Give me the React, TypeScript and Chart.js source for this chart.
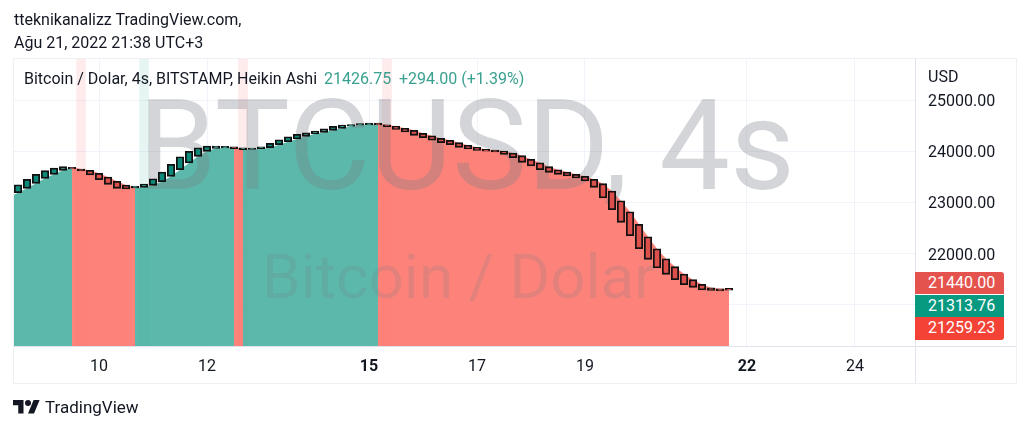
import React, { useEffect, useRef } from "react";
import { Chart, registerables } from "chart.js";

Chart.register(...registerables);

const opens = [
  23189, 23275, 23372, 23470, 23548, 23626, 23687, 23652, 23626, 23568,
  23495, 23411, 23339, 23284, 23294, 23333, 23404, 23509, 23638, 23769,
  23900, 23998, 24056, 24062, 24086, 24031, 24035, 24050, 24068, 24127,
  24185, 24238, 24291, 24336, 24369, 24408, 24447, 24488, 24508, 24511,
  24547, 24515, 24486, 24447, 24408, 24349, 24302, 24252, 24213, 24166,
  24115, 24076, 24035, 24021, 24003, 23964, 23912, 23841, 23775, 23697,
  23638, 23593, 23548, 23509, 23450, 23365, 23222, 23032, 22817, 22571,
  22329, 22094, 21899, 21743, 21600, 21489, 21399, 21332, 21311, 21318,
];
const closes = [
  23345, 23450, 23548, 23619, 23671, 23697, 23652, 23613, 23534, 23443,
  23353, 23275, 23261, 23320, 23359, 23462, 23593, 23744, 23892, 23998,
  24068, 24101, 24101, 24097, 24050, 24066, 24062, 24086, 24154, 24224,
  24283, 24330, 24361, 24394, 24439, 24486, 24511, 24521, 24541, 24547,
  24511, 24480, 24427, 24375, 24310, 24263, 24213, 24166, 24127, 24076,
  24043, 24017, 24000, 23986, 23939, 23873, 23783, 23710, 23638, 23587,
  23548, 23515, 23476, 23417, 23294, 23085, 22856, 22610, 22348, 22094,
  21887, 21717, 21594, 21489, 21391, 21340, 21287, 21282, 21272, 21283,
];
const firstOpenBeforeRange = 23100;

const bandIndexes = [7, 14, 25, 41];
const bandKinds = ["down", "up", "down", "down"];

const timeTickIndexes = [9, 21, 39, 51, 63, 81, 93];
const timeTickLabels = ["10", "12", "15", "17", "19", "22", "24"];
const boldTimeLabels = ["15", "22"];
const priceTicks = [21000, 22000, 23000, 24000, 25000];
const hiddenPriceTick = 21000;
const priceBadges = [
  { text: "21440.00", color: "#e5534f" },
  { text: "21313.76", color: "#089981" },
  { text: "21259.23", color: "#f44336" },
];

const PRICE_MIN = 20174;
const PRICE_MAX = 25821;
const FONT = "Roboto, sans-serif";
const INK = "#131722";
const AREA_UP = "rgba(73,176,161,0.9)";
const AREA_DOWN = "rgba(253,117,108,0.9)";
const QUOTE = "#3aa08f";

const isUp = (i: number) => closes[i] >= opens[i];

const watermark = {
  id: "watermark",
  beforeDatasetDraw(chart: any, args: any) {
    if (args.index !== 0) return;
    const { ctx } = chart;
    ctx.save();
    ctx.textBaseline = "alphabetic";
    ctx.textAlign = "left";
    ctx.fillStyle = "rgba(120,123,134,0.32)";
    ctx.font = `400 126px ${FONT}`;
    ctx.fillText("BTCUSD, 4s", 138, 189);
    ctx.fillStyle = "rgba(120,123,134,0.2)";
    ctx.font = `400 62px ${FONT}`;
    ctx.fillText("Bitcoin / Dolar", 262, 298);
    ctx.restore();
  },
};

const abs = (left: number, top: number, extra: React.CSSProperties = {}): React.CSSProperties => ({
  position: "absolute",
  left,
  top,
  fontFamily: FONT,
  fontSize: 16,
  lineHeight: "20px",
  color: INK,
  whiteSpace: "nowrap",
  ...extra,
});

export default function App() {
  const ref = useRef<HTMLCanvasElement>(null);

  useEffect(() => {
    const chart = new Chart(ref.current as HTMLCanvasElement, {
      type: "bar",
      data: {
        datasets: [
          {
            type: "bar",
            order: 0,
            grouped: false,
            barThickness: 7.5,
            data: opens.map((o, i) => ({ x: i, y: [o, closes[i]] })),
            backgroundColor: opens.map((_, i) => (isUp(i) ? "#0e8a7a" : "#dd4f4b")),
            borderColor: "#111111",
            borderWidth: 1.8,
            borderSkipped: false,
          },
          {
            type: "line",
            order: 1,
            data: [
              { x: -1, y: firstOpenBeforeRange },
              ...opens.map((o, i) => ({ x: i, y: o })),
            ],
            pointRadius: 0,
            borderWidth: 0,
            tension: 0,
            fill: "start",
            backgroundColor: AREA_UP,
            segment: {
              backgroundColor: (ctx: any) => {
                const i = ctx.p0DataIndex - 1;
                return i >= 0 && !isUp(i) ? AREA_DOWN : AREA_UP;
              },
            },
          },
          {
            type: "bar",
            order: 2,
            grouped: false,
            barThickness: 9,
            data: bandIndexes.map((x) => ({ x, y: [PRICE_MIN, PRICE_MAX] })),
            backgroundColor: bandKinds.map((k) =>
              k === "up" ? "rgba(8,153,129,0.1)" : "rgba(242,54,69,0.1)"
            ),
            borderWidth: 0,
          },
        ] as any,
      },
      plugins: [watermark],
      options: {
        animation: false,
        responsive: false,
        maintainAspectRatio: false,
        layout: { padding: { left: 13, right: 8, top: 58, bottom: 47 } },
        plugins: { legend: { display: false }, tooltip: { enabled: false } },
        scales: {
          x: {
            type: "linear",
            offset: false,
            min: -0.56,
            max: 99.67,
            afterBuildTicks: (s: any) => {
              s.ticks = timeTickIndexes.map((value) => ({ value }));
            },
            afterFit: (s: any) => {
              s.height = 36;
            },
            grid: { color: "#f0f3fa", drawTicks: false, offset: false },
            border: { display: false },
            ticks: {
              autoSkip: false,
              maxRotation: 0,
              padding: 10,
              color: INK,
              font: (ctx: any) => ({
                family: FONT,
                size: 16,
                weight: boldTimeLabels.includes(
                  timeTickLabels[timeTickIndexes.indexOf(ctx.tick?.value)]
                )
                  ? "bold"
                  : "normal",
              }),
              callback: (v: any) => timeTickLabels[timeTickIndexes.indexOf(v)] ?? "",
            },
          },
          y: {
            type: "linear",
            position: "right",
            min: PRICE_MIN,
            max: PRICE_MAX,
            afterBuildTicks: (s: any) => {
              s.ticks = priceTicks.map((value) => ({ value }));
            },
            afterFit: (s: any) => {
              s.width = 101;
            },
            grid: { color: "#f0f3fa", drawTicks: false },
            border: { display: false },
            ticks: {
              padding: 13,
              labelOffset: 2,
              color: INK,
              font: { family: FONT, size: 16 },
              callback: (v: any) => (v === hiddenPriceTick ? "" : Number(v).toFixed(2)),
            },
          },
        },
      } as any,
    });
    return () => chart.destroy();
  }, []);

  return (
    <div style={{ position: "absolute", left: 0, top: 0, width: 1024, height: 430, background: "#fff", overflow: "hidden" }}>
      <canvas ref={ref} width={1024} height={430} style={{ position: "absolute", left: 0, top: 0, width: 1024, height: 430 }} />
      <div style={{ position: "absolute", left: 13, top: 58, width: 1002, height: 324, border: "1px solid #eef0f3" }} />
      <div style={{ position: "absolute", left: 915, top: 58, width: 1, height: 325, background: "#e0e3eb" }} />
      <div style={{ position: "absolute", left: 13, top: 346, width: 1003, height: 1, background: "#e0e3eb" }} />

      <div style={abs(14, 10)}>tteknikanalizz TradingView.com,</div>
      <div style={abs(14, 33)}>Ağu 21, 2022 21:38 UTC+3</div>
      <div style={abs(24, 69)}>Bitcoin / Dolar, 4s, BITSTAMP, Heikin Ashi</div>
      <div style={abs(324, 69, { color: QUOTE })}>21426.75</div>
      <div style={abs(399, 69, { color: QUOTE })}>+294.00 (+1.39%)</div>
      <div style={abs(928, 67)}>USD</div>

      {priceBadges.map((b, i) => (
        <div
          key={b.text}
          style={abs(915, 272 + i * 22.7, {
            width: 89,
            height: 22.3,
            lineHeight: "22px",
            background: b.color,
            color: "#fff",
            paddingLeft: 13,
            boxSizing: "border-box",
            borderRadius: i === 1 ? 0 : i === 0 ? "0 3px 0 0" : "0 0 3px 0",
          })}
        >
          {b.text}
        </div>
      ))}

      <svg style={{ position: "absolute", left: 13, top: 397 }} width="27" height="21" viewBox="0 0 36 28">
        <path d="M14 22H7V11H0V4h14v18zM28 22h-8l7.5-18h8L28 22z" fill={INK} />
        <circle cx="20" cy="8" r="4" fill={INK} />
      </svg>
      <div style={abs(45, 397, { fontSize: 17 })}>TradingView</div>
    </div>
  );
}
